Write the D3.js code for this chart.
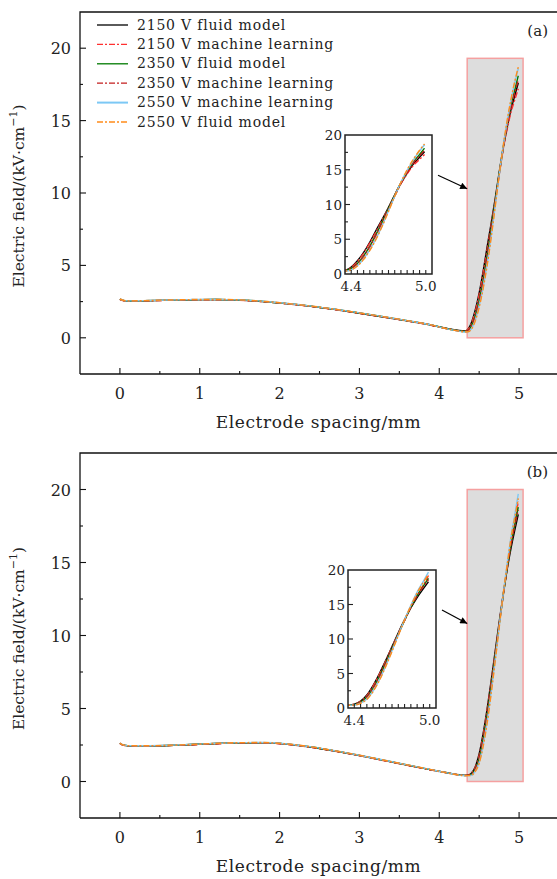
<!DOCTYPE html>
<html><head><meta charset="utf-8">
<script src="https://cdn.jsdelivr.net/npm/d3@7"></script>
<style>body{margin:0;background:#fff}svg{display:block}text{font-family:"DejaVu Serif",serif;fill:#222}</style>
</head><body>
<svg id="c" width="557" height="879"></svg>
<script>
// ---------- data ----------
const seriesNames = ["2150 V fluid model","2150 V machine learning","2350 V fluid model","2350 V machine learning","2550 V machine learning","2550 V fluid model"];
const seriesColors = ["#000000","#ff3030","#007a00","#c41e1e","#7cc8f5","#ff8c1a"];
const seriesDash = [null,"6,2,2,2",null,"6,2,2,2",null,"6,2,2,2"];

const xs = [0,0.03,0.1,0.3,0.6,0.9,1.2,1.5,1.8,2.1,2.4,2.7,3.0,3.3,3.6,3.9,4.1,4.25,4.32,4.36,4.4,4.45,4.5,4.55,4.6,4.65,4.7,4.75,4.8,4.85,4.9,4.95,4.99];

// panel (a)
const aBlack  = [2.68,2.60,2.54,2.56,2.60,2.63,2.64,2.60,2.50,2.35,2.17,1.95,1.70,1.44,1.17,0.88,0.64,0.50,0.48,0.60,1.00,1.90,3.10,4.60,6.30,7.90,9.60,11.4,13.1,14.5,15.8,16.8,17.6];
const aRed    = [2.66,2.59,2.53,2.55,2.59,2.62,2.63,2.59,2.49,2.34,2.16,1.94,1.69,1.43,1.16,0.87,0.63,0.49,0.47,0.58,0.95,1.80,3.00,4.50,6.10,7.80,9.50,11.3,13.0,14.4,15.6,16.5,17.2];
const aGreen  = [2.67,2.60,2.54,2.56,2.60,2.63,2.64,2.61,2.51,2.36,2.18,1.96,1.71,1.45,1.18,0.88,0.63,0.48,0.44,0.50,0.80,1.50,2.60,4.00,5.70,7.50,9.40,11.3,13.1,14.7,16.1,17.2,18.1];
const aDkRed  = [2.66,2.59,2.53,2.55,2.59,2.62,2.63,2.60,2.50,2.35,2.17,1.95,1.70,1.44,1.17,0.87,0.62,0.47,0.44,0.50,0.78,1.45,2.50,3.90,5.60,7.40,9.30,11.2,13.0,14.6,16.0,17.0,17.8];
const aBlue   = [2.68,2.61,2.55,2.57,2.61,2.64,2.65,2.62,2.52,2.37,2.19,1.97,1.72,1.46,1.19,0.89,0.62,0.46,0.40,0.42,0.60,1.20,2.20,3.50,5.10,7.00,9.10,11.2,13.2,14.9,16.4,17.7,18.6];
const aOrange = [2.68,2.61,2.55,2.57,2.61,2.64,2.65,2.62,2.52,2.37,2.19,1.97,1.72,1.46,1.19,0.89,0.62,0.46,0.40,0.42,0.58,1.15,2.10,3.40,5.00,6.90,9.00,11.2,13.2,15.0,16.5,17.8,18.7];

// panel (b)
const bBlack  = [2.62,2.52,2.45,2.44,2.47,2.53,2.60,2.65,2.65,2.55,2.35,2.08,1.78,1.45,1.12,0.80,0.60,0.46,0.42,0.44,0.55,1.00,1.90,3.30,5.00,6.90,8.90,10.9,12.8,14.5,16.0,17.3,18.3];
const bRed    = [2.61,2.51,2.44,2.43,2.46,2.52,2.59,2.64,2.64,2.54,2.34,2.07,1.77,1.44,1.11,0.79,0.59,0.45,0.42,0.44,0.55,0.95,1.80,3.20,4.90,6.80,8.80,10.8,12.7,14.6,16.3,17.8,19.2];
const bGreen  = [2.62,2.52,2.45,2.44,2.47,2.53,2.60,2.65,2.66,2.56,2.36,2.09,1.79,1.46,1.13,0.80,0.59,0.45,0.41,0.42,0.48,0.85,1.60,2.90,4.60,6.50,8.60,10.7,12.7,14.6,16.3,17.7,18.8];
const bDkRed  = [2.61,2.51,2.44,2.43,2.46,2.52,2.59,2.64,2.65,2.55,2.35,2.08,1.78,1.45,1.12,0.79,0.58,0.44,0.41,0.42,0.47,0.82,1.55,2.85,4.50,6.40,8.50,10.7,12.7,14.6,16.3,17.6,18.6];
const bBlue   = [2.63,2.53,2.46,2.45,2.48,2.54,2.61,2.66,2.67,2.57,2.37,2.10,1.80,1.47,1.14,0.81,0.59,0.44,0.40,0.40,0.42,0.70,1.30,2.50,4.10,6.10,8.30,10.6,12.8,14.9,16.8,18.4,19.7];
const bOrange = [2.63,2.53,2.46,2.45,2.48,2.54,2.61,2.66,2.67,2.57,2.37,2.10,1.80,1.47,1.14,0.81,0.59,0.44,0.40,0.40,0.42,0.68,1.25,2.40,4.00,6.00,8.20,10.5,12.8,14.8,16.7,18.2,19.4];

const panelA = [aBlack,aRed,aGreen,aDkRed,aBlue,aOrange];
const panelB = [bBlack,bRed,bGreen,bDkRed,bBlue,bOrange];

const xTicks = [0,1,2,3,4,5];
const yTicks = [0,5,10,15,20];
const insetXTickLabels = [4.4,5.0];
const zoomRegionA = {x0:4.35,x1:5.05,y0:0,y1:19.3};
const zoomRegionB = {x0:4.35,x1:5.05,y0:0,y1:20};

// ---------- drawing ----------
const svg = d3.select("#c");
const defs = svg.append("defs");
defs.append("marker").attr("id","arr").attr("viewBox","0 0 10 10").attr("refX",10).attr("refY",5)
  .attr("markerWidth",9).attr("markerHeight",7).attr("markerUnits","userSpaceOnUse").attr("orient","auto")
  .append("path").attr("d","M0,0 L10,5 L0,10 Z").attr("fill","#000");

function panel(cfg){
  const {data, top, bottom, label, region, inset, legend, id} = cfg;
  const g = svg.append("g");
  const x = d3.scaleLinear().domain([-0.5,5.5]).range([80,559]);
  const y = d3.scaleLinear().domain([-2.5,22.5]).range([bottom,top]);

  // zoom region rectangle
  g.append("rect").attr("x",x(region.x0)).attr("y",y(region.y1))
    .attr("width",x(region.x1)-x(region.x0)).attr("height",y(region.y0)-y(region.y1))
    .attr("fill","#dddddd").attr("stroke","#f5a0a0").attr("stroke-width",1.5);

  const line = d3.line().x((d,i)=>x(xs[i])).y(d=>y(d)).curve(d3.curveMonotoneX);
  data.forEach((s,k)=>{
    g.append("path").attr("d",line(s)).attr("fill","none").attr("stroke",seriesColors[k])
      .attr("stroke-width",1.4).attr("stroke-dasharray",seriesDash[k]);
  });

  // frame
  g.append("path").attr("d",`M${x(-0.5)},${y(-2.5)} V${y(22.5)} H${x(5.5)}`).attr("fill","none").attr("stroke","#111").attr("stroke-width",1.3);
  g.append("line").attr("x1",x(-0.5)).attr("x2",x(5.5)).attr("y1",y(-2.5)).attr("y2",y(-2.5)).attr("stroke","#111").attr("stroke-width",1.3);

  // x ticks (inward)
  d3.range(0,5.01,0.5).forEach(v=>{
    const major = Math.abs(v-Math.round(v))<1e-6;
    g.append("line").attr("x1",x(v)).attr("x2",x(v)).attr("y1",y(-2.5)).attr("y2",y(-2.5)-(major?6:3)).attr("stroke","#111").attr("stroke-width",1.1);
  });
  xTicks.forEach(v=>g.append("text").attr("x",x(v)).attr("y",y(-2.5)+25).attr("text-anchor","middle").attr("font-size",16).text(v));
  // y ticks
  d3.range(-2.5,22.51,2.5).forEach(v=>{
    const major = Math.abs(v/5-Math.round(v/5))<1e-6;
    if(v<=-2.5||v>=22.5) return;
    g.append("line").attr("x1",x(-0.5)).attr("x2",x(-0.5)+(major?6:3)).attr("y1",y(v)).attr("y2",y(v)).attr("stroke","#111").attr("stroke-width",1.1);
  });
  yTicks.forEach(v=>g.append("text").attr("x",x(-0.5)-9).attr("y",y(v)+6).attr("text-anchor","end").attr("font-size",16).text(v));

  // axis titles
  g.append("text").attr("x",(x(-0.5)+x(5.5))/2-1).attr("y",bottom+54).attr("text-anchor","middle").attr("font-size",17).attr("letter-spacing",0.6).text("Electrode spacing/mm");
  const yl = g.append("text").attr("transform",`translate(24,${(top+bottom)/2+3}) rotate(-90)`).attr("text-anchor","middle").attr("font-size",15.5);
  yl.append("tspan").text("Electric field/(kV·cm");
  yl.append("tspan").attr("font-size",11).attr("dy",-7).text("−1");
  yl.append("tspan").attr("dy",7).text(")");

  g.append("text").attr("x",548).attr("y",top+24).attr("text-anchor","end").attr("font-size",15).text(label);

  // legend
  if(legend){
    seriesNames.forEach((n,k)=>{
      const ly = top+13+k*19.4;
      g.append("line").attr("x1",97).attr("x2",128).attr("y1",ly).attr("y2",ly).attr("stroke",seriesColors[k])
        .attr("stroke-width",k===4?2:1.3).attr("stroke-dasharray",seriesDash[k]);
      g.append("text").attr("x",137).attr("y",ly+4.5).attr("font-size",14).attr("letter-spacing",0.8).text(n);
    });
  }

  // inset
  const ix = d3.scaleLinear().domain([region.x0,region.x1]).range([inset.x0,inset.x1]);
  const iy = d3.scaleLinear().domain([0,20]).range([inset.y1,inset.y0]);
  defs.append("clipPath").attr("id","clip"+id).append("rect").attr("x",inset.x0).attr("y",inset.y0).attr("width",inset.x1-inset.x0).attr("height",inset.y1-inset.y0);
  g.append("rect").attr("x",inset.x0).attr("y",inset.y0).attr("width",inset.x1-inset.x0).attr("height",inset.y1-inset.y0).attr("fill","#fff");
  const ig = g.append("g").attr("clip-path",`url(#clip${id})`);
  const iline = d3.line().defined((d,i)=>xs[i]>=4.32).x((d,i)=>ix(xs[i])).y(d=>iy(d)).curve(d3.curveMonotoneX);
  data.forEach((s,k)=>{
    ig.append("path").attr("d",iline(s)).attr("fill","none").attr("stroke",seriesColors[k])
      .attr("stroke-width",1.4).attr("stroke-dasharray",seriesDash[k]);
  });
  g.append("rect").attr("x",inset.x0).attr("y",inset.y0).attr("width",inset.x1-inset.x0).attr("height",inset.y1-inset.y0).attr("fill","none").attr("stroke","#222").attr("stroke-width",1.5);
  d3.range(0,20.01,2.5).forEach(v=>{
    const major = Math.abs(v/5-Math.round(v/5))<1e-6;
    if(v>0&&v<20) g.append("line").attr("x1",inset.x0).attr("x2",inset.x0+(major?5:3)).attr("y1",iy(v)).attr("y2",iy(v)).attr("stroke","#222").attr("stroke-width",1.1);
  });
  yTicks.forEach(v=>g.append("text").attr("x",inset.x0-3).attr("y",iy(v)+5).attr("text-anchor","end").attr("font-size",13.5).text(v));
  d3.range(4.4,5.001,0.05).forEach(v=>{
    g.append("line").attr("x1",ix(v)).attr("x2",ix(v)).attr("y1",inset.y1).attr("y2",inset.y1-4).attr("stroke","#222").attr("stroke-width",1.1);
  });
  insetXTickLabels.forEach(v=>g.append("text").attr("x",ix(v)).attr("y",inset.y1+17).attr("text-anchor","middle").attr("font-size",13.5).text(v.toFixed(1)));

  // arrow
  g.append("line").attr("x1",inset.x1+6).attr("y1",iy(14.2)).attr("x2",x(region.x0)).attr("y2",iy(14.2)+13.5)
    .attr("stroke","#000").attr("stroke-width",1.2).attr("marker-end","url(#arr)");
}

panel({id:"a",data:panelA,top:12,bottom:374,label:"(a)",region:zoomRegionA,legend:true,
  inset:{x0:345,x1:432,y0:135,y1:274}});
panel({id:"b",data:panelB,top:453,bottom:818,label:"(b)",region:zoomRegionB,legend:false,
  inset:{x0:348,x1:436,y0:570,y1:708}});
</script>
</body></html>
